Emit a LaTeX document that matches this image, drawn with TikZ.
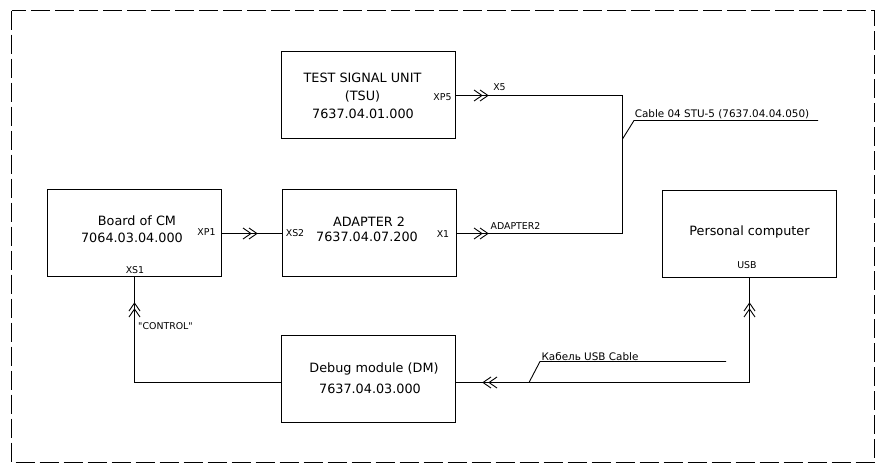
\documentclass[tikz,border=0pt]{standalone}
\usepackage{fontspec}
\setmainfont{DejaVu Sans}
\newfontfamily\qfont[Ligatures=TeXOff]{DejaVu Sans}
\begin{document}
\begin{tikzpicture}[x=1pt,y=-1pt,line width=0.9pt,
  box/.style={draw,inner sep=0pt,minimum width=174pt,minimum height=87pt},
  big/.style={inner sep=0pt,font=\fontsize{12.8}{14}\selectfont},
  small/.style={inner sep=0pt,font=\fontsize{9.4}{10}\selectfont},
  mid/.style={inner sep=0pt,font=\fontsize{10.4}{11}\selectfont},
  chevR/.pic={\draw (-8,-5.5)--(0,0)--(-8,5.5) (-2,-5.5)--(6,0)--(-2,5.5);},
  chevL/.pic={\draw (8,-5.5)--(0,0)--(8,5.5) (14,-5.5)--(6,0)--(14,5.5);},
  chevU/.pic={\draw (-5.5,8)--(0,0)--(5.5,8) (-5.5,14)--(0,6)--(5.5,14);}
]
\useasboundingbox (0,0) rectangle (885,469);
\draw[dash pattern=on 19pt off 5pt] (11.5,10.5) rectangle (874.5,462.5);

% boxes
\node[box] (tsu) at (368.5,95) {};
\node[box] (board) at (134.5,233) {};
\node[box] (adp) at (369.5,233) {};
\node[box] (pc) at (749.5,234) {};
\node[box] (dm) at (368.5,379) {};

% box texts
\node[big] (t1) at (362.5,78) {TEST SIGNAL UNIT};
\node[big] (t2) at (362.5,96.5) {(TSU)};
\node[big] (t3) at (363,114) {7637.04.01.000};
\node[small] (t4) at (442.5,97) {XP5};

\node[big] (b1) at (137,221) {Board of CM};
\node[big] (b2) at (132,238) {7064.03.04.000};
\node[small] (b3) at (206.5,232) {XP1};
\node[small] (b4) at (135,270) {XS1};

\node[big] (a1) at (369,222) {ADAPTER 2};
\node[big] (a2) at (367,237) {7637.04.07.200};
\node[small] (a3) at (295,233) {XS2};
\node[small] (a4) at (443,234) {X1};

\node[big] (p1) at (749.5,232) {Personal computer};
\node[small] (p2) at (747,265) {USB};

\node[big] (d1) at (374,369) {Debug module (DM)};
\node[big] (d2) at (370,389) {7637.04.03.000};

% connector labels
\node[small] (x5) at (499.5,87) {X5};
\node[small] (ad2) at (515.5,226) {ADAPTER2};
\node[small] (ctl) at (165.5,326) {{\qfont"}CONTROL{\qfont"}};
\node[mid] (cab) at (722,114) {Cable 04 STU-5 (7637.04.04.050)};
\node[mid] (usbc) at (590,356.5) {Кабель USB Cable};

% connectors
\coordinate (j1) at (622.5,95.5);
\coordinate (j2) at (622.5,233.5);
\draw (tsu.east |- j1) -- (j1) -- (j2) -- (adp.east |- j2);
\coordinate (j3) at (230,233.5);
\draw (board.east |- j3) -- (adp.west |- j3);
\coordinate (c1) at (134.5,382.5);
\draw (board.south) -- (c1) -- (c1 -| dm.west);
\coordinate (c2) at (749.5,382.5);
\draw (dm.east |- c2) -- (c2) -- (pc.south);

% leaders
\coordinate (l1a) at (622.5,139);
\coordinate (l1b) at (634,120.5);
\coordinate (l1c) at (818,120.5);
\draw (l1a) -- (l1b) -- (l1c);
\coordinate (l2a) at (529,382.5);
\coordinate (l2b) at (540,361.5);
\coordinate (l2c) at (726,361.5);
\draw (l2a) -- (l2b) -- (l2c);

% connector marks
\pic at (482,95.5) {chevR};
\pic at (482,233.5) {chevR};
\pic at (251,233.5) {chevR};
\pic at (134.5,303) {chevU};
\pic at (749.5,303) {chevU};
\pic at (483,382.5) {chevL};
\end{tikzpicture}
\end{document}
